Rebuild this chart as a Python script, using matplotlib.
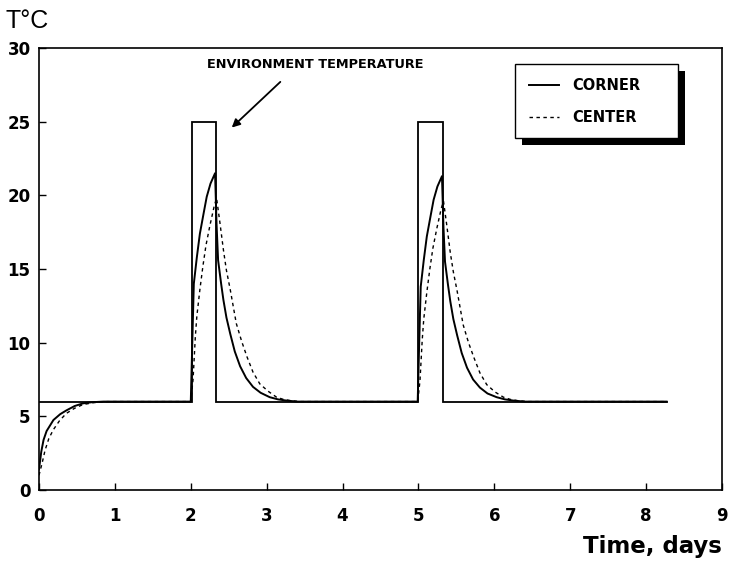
import matplotlib
matplotlib.use("Agg")
import matplotlib.pyplot as plt
from matplotlib.patches import Rectangle

# ---------------- data ----------------
env_t = [0.0, 2.02, 2.02, 2.33, 2.33, 5.00, 5.00, 5.32, 5.32, 8.27]
env_T = [6.0, 6.0, 25.0, 25.0, 6.0, 6.0, 25.0, 25.0, 6.0, 6.0]

corner_t = [0.00, 0.03, 0.06, 0.10, 0.19, 0.28, 0.36, 0.47, 0.58, 0.70, 0.85, 1.00,
            2.00, 2.02, 2.04, 2.08, 2.12, 2.17, 2.21, 2.26, 2.32,
            2.34, 2.36, 2.40, 2.43, 2.47, 2.52, 2.58, 2.65, 2.73, 2.82, 2.92,
            3.04, 3.15, 3.26, 3.40, 4.00,
            4.99, 5.01, 5.03, 5.07, 5.11, 5.16, 5.20, 5.25, 5.31,
            5.33, 5.35, 5.39, 5.42, 5.46, 5.51, 5.57, 5.64, 5.72, 5.81, 5.91,
            6.03, 6.14, 6.25, 6.40, 7.00, 8.27]
corner_T = [1.4, 2.6, 3.4, 4.0, 4.75, 5.15, 5.4, 5.7, 5.88, 5.96, 6.0, 6.0,
            6.0, 10.0, 14.0, 15.8, 17.4, 18.8, 19.9, 20.8, 21.5,
            18.0, 15.6, 14.0, 12.9, 11.7, 10.6, 9.4, 8.4, 7.6, 7.0, 6.6,
            6.3, 6.15, 6.07, 6.0, 6.0,
            6.0, 10.0, 13.8, 15.6, 17.2, 18.6, 19.7, 20.6, 21.3,
            17.8, 15.5, 13.9, 12.8, 11.6, 10.5, 9.3, 8.3, 7.5, 6.95, 6.55,
            6.3, 6.15, 6.07, 6.0, 6.0, 6.0]

center_t = [0.00, 0.04, 0.08, 0.13, 0.19, 0.27, 0.36, 0.47, 0.58, 0.72, 0.90, 1.00,
            2.00, 2.03, 2.06, 2.08, 2.12, 2.16, 2.20, 2.25, 2.31, 2.34,
            2.38, 2.43, 2.47, 2.52, 2.60, 2.67, 2.74, 2.82, 2.91, 3.02,
            3.13, 3.22, 3.32, 3.45, 4.00,
            4.99, 5.02, 5.05, 5.07, 5.11, 5.15, 5.19, 5.24, 5.30, 5.33,
            5.37, 5.42, 5.46, 5.51, 5.59, 5.66, 5.73, 5.81, 5.90, 6.01,
            6.12, 6.21, 6.31, 6.45, 7.00, 8.27]
center_T = [1.0, 1.8, 2.7, 3.5, 4.1, 4.7, 5.2, 5.55, 5.8, 5.93, 6.0, 6.0,
            6.0, 7.5, 10.4, 11.8, 13.6, 15.2, 16.6, 17.9, 19.3, 19.8,
            18.3, 16.3, 14.9, 13.6, 11.3, 10.1, 9.05, 8.0, 7.2, 6.7,
            6.3, 6.15, 6.06, 6.0, 6.0,
            6.0, 7.4, 10.2, 11.6, 13.4, 15.0, 16.4, 17.7, 19.1, 19.6,
            18.1, 16.1, 14.8, 13.5, 11.2, 10.0, 9.0, 7.95, 7.15, 6.65,
            6.3, 6.15, 6.06, 6.0, 6.0, 6.0]

x_ticks = [0, 1, 2, 3, 4, 5, 6, 7, 8, 9]
y_ticks = [0, 5, 10, 15, 20, 25, 30]
series_labels = ["CORNER", "CENTER"]

# ---------------- figure ----------------
plt.rcParams['font.family'] = ['Liberation Sans', 'DejaVu Sans']

fig = plt.figure(figsize=(7.31, 5.65), dpi=100)
ax = fig.add_axes([39 / 731, 75 / 565, 683 / 731, 442 / 565])

ax.plot(env_t, env_T, color='black', lw=1.3, solid_joinstyle='miter')
l1, = ax.plot(corner_t, corner_T, color='black', lw=1.4, label=series_labels[0])
l2, = ax.plot(center_t, center_T, color='black', lw=1.0,
              linestyle=(0, (2.5, 2.5)), label=series_labels[1])

ax.set_xlim(0, 9)
ax.set_ylim(0, 30)
ax.set_xticks(x_ticks)
ax.set_yticks(y_ticks)
ax.tick_params(direction='in', length=5, width=1.0, labelsize=12)
ax.tick_params(axis='x', pad=12)
ax.tick_params(axis='y', pad=6)
for lab in ax.get_xticklabels() + ax.get_yticklabels():
    lab.set_fontweight('bold')
    lab.set_family('DejaVu Sans')
for sp in ax.spines.values():
    sp.set_linewidth(1.2)

# axis titles
fig.text(5 / 731, 1 - 28 / 565, "T°C", fontsize=18, ha='left', va='baseline')
fig.text(722 / 731, 1 - 553 / 565, "Time, days", fontsize=16.5, fontweight='bold',
         family=['DejaVu Sans'], ha='right', va='baseline')

# annotation
ax.text(3.64, 28.9, "ENVIRONMENT TEMPERATURE", fontsize=9.3, fontweight='bold',
        family=['DejaVu Sans'], ha='center', va='center')
ax.annotate("", xy=(2.54, 24.6), xytext=(3.18, 27.7),
            arrowprops=dict(arrowstyle='-|>', color='black', lw=1.3,
                            mutation_scale=12, shrinkA=0, shrinkB=0))

# legend with black offset shadow
leg = ax.legend(handles=[l1, l2], loc='upper left', mode='expand',
                bbox_to_anchor=(515 / 731, 1 - 139 / 565, 163 / 731, 75 / 565),
                bbox_transform=fig.transFigure,
                frameon=True, fancybox=False, edgecolor='black',
                facecolor='white', framealpha=1.0,
                prop={'weight': 'bold', 'size': 10.5, 'family': 'DejaVu Sans'},
                handlelength=2.1, handletextpad=0.9, borderpad=0.95,
                labelspacing=1.15, borderaxespad=0)
leg.get_frame().set_linewidth(1.0)
leg.set_zorder(5)

fig.canvas.draw()
bb = leg.get_window_extent().transformed(fig.transFigure.inverted())
off_x, off_y = 7 / 731, 7 / 565
shadow = Rectangle((bb.x0 + off_x, bb.y0 - off_y), bb.width, bb.height,
                   transform=fig.transFigure, facecolor='black', edgecolor='none',
                   zorder=4)
ax.add_artist(shadow)
shadow.set_clip_on(False)

fig.savefig("out.png", dpi=100)
